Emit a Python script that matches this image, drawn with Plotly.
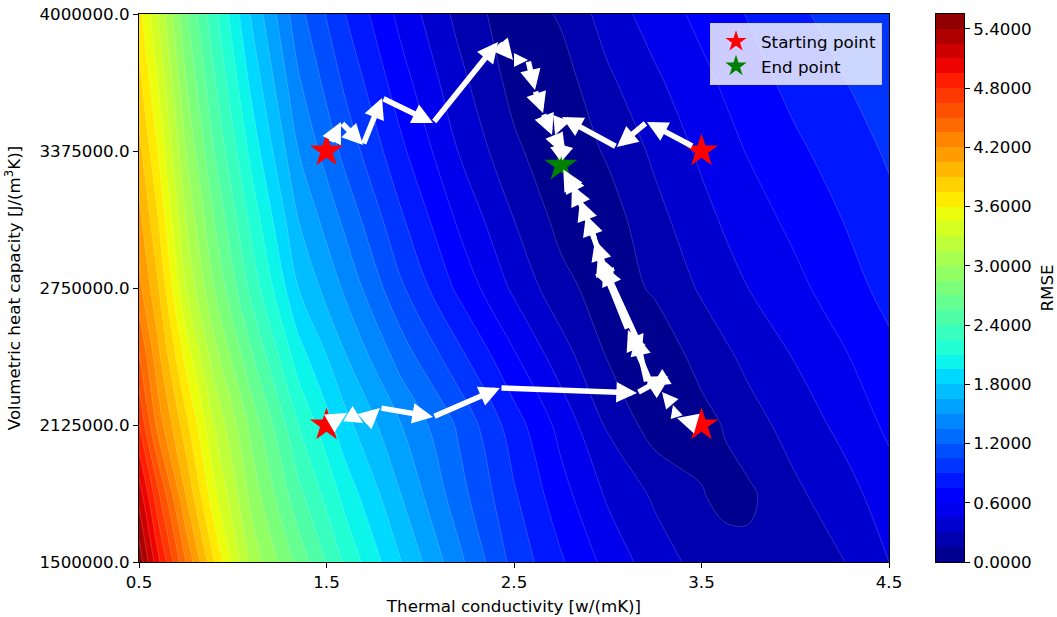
import plotly.graph_objects as go

# ---- RMSE surface sampled on a (conductivity, heat capacity) grid ----
k_grid = [0.5, 0.6, 0.75, 0.9, 1.1, 1.35, 1.6, 1.9, 2.2, 2.5, 2.75, 3.0,
          3.25, 3.5, 3.625, 3.75, 4.0, 4.25, 4.5]
c_grid = [1500000, 1800000, 2125000, 2437500, 2750000, 3062500, 3375000, 3687500, 4000000]
rmse_c1500 = [5.5, 5.0, 4.35, 3.75, 3.1, 2.65, 2.22, 1.8, 1.4, 1.0, 0.77, 0.55,
              0.37, 0.25, 0.21, 0.19, 0.22, 0.29, 0.45]
rmse_c1800 = [5.2, 4.7, 4.05, 3.5, 2.95, 2.45, 2.05, 1.65, 1.27, 0.92, 0.66, 0.43,
              0.28, 0.16, 0.11, 0.12, 0.27, 0.38, 0.53]
rmse_c2125 = [4.8, 4.3, 3.8, 3.3, 2.8, 2.25, 1.85, 1.5, 1.18, 0.82, 0.55, 0.28,
              0.08, 0.10, 0.16, 0.24, 0.36, 0.49, 0.63]
rmse_c2438 = [4.52, 4.1, 3.55, 3.07, 2.57, 2.02, 1.66, 1.28, 0.95, 0.62, 0.37, 0.14,
              0.05, 0.20, 0.27, 0.34, 0.46, 0.58, 0.71]
rmse_c2750 = [4.25, 3.92, 3.3, 2.85, 2.35, 1.8, 1.47, 1.07, 0.72, 0.42, 0.20, 0.07,
              0.17, 0.32, 0.39, 0.45, 0.56, 0.68, 0.80]
rmse_c3063 = [4.1, 3.76, 3.15, 2.7, 2.2, 1.65, 1.31, 0.92, 0.58, 0.30, 0.10, 0.08,
              0.25, 0.40, 0.47, 0.53, 0.64, 0.75, 0.86]
rmse_c3375 = [3.95, 3.6, 3.0, 2.55, 2.05, 1.5, 1.15, 0.78, 0.45, 0.18, 0.04, 0.17,
              0.33, 0.48, 0.55, 0.61, 0.72, 0.82, 0.92]
rmse_c3688 = [3.8, 3.45, 2.86, 2.42, 1.91, 1.37, 1.02, 0.66, 0.35, 0.10, 0.08, 0.27,
              0.42, 0.56, 0.62, 0.68, 0.80, 0.89, 0.98]
rmse_c4000 = [3.65, 3.3, 2.72, 2.3, 1.78, 1.25, 0.9, 0.55, 0.26, 0.05, 0.17, 0.37,
              0.52, 0.64, 0.70, 0.76, 0.87, 0.96, 1.05]
rmse_rows = [rmse_c1500, rmse_c1800, rmse_c2125, rmse_c2438, rmse_c2750,
             rmse_c3063, rmse_c3375, rmse_c3688, rmse_c4000]

level_step = 0.15
level_top = 5.55
cbar_ticks = [0.0, 0.6, 1.2, 1.8, 2.4, 3.0, 3.6, 4.2, 4.8, 5.4]

# ---- optimisation paths (conductivity, heat capacity) ----
path_a_k = [1.5, 1.577, 1.695, 1.796, 2.068, 2.415, 2.495, 2.575, 2.612, 2.655, 2.703, 2.735, 2.75]
path_a_c = [3375000, 3507000, 3402000, 3617000, 3503000, 3872000, 3790000, 3790000,
            3653000, 3548000, 3448000, 3380000, 3310000]
path_b_k = [3.5, 3.209, 3.049, 2.756, 2.719, 2.772, 2.75]
path_b_c = [3375000, 3507000, 3393000, 3530000, 3448000, 3380000, 3310000]
path_c_k = [1.5, 1.609, 1.695, 1.785, 2.068, 2.425, 3.156, 3.321, 3.236, 3.108, 2.948,
            3.023, 2.884, 2.809, 2.75]
path_c_c = [2125000, 2180000, 2134000, 2203000, 2162000, 2294000, 2271000, 2349000,
            2303000, 2558000, 2901000, 2741000, 3083000, 3220000, 3310000]
path_d_k = [3.5, 3.369, 3.348, 3.289, 3.209, 3.151, 3.183, 2.975, 2.932, 2.852, 2.777, 2.75]
path_d_c = [2125000, 2157000, 2216000, 2276000, 2317000, 2536000, 2467000, 2855000,
            2969000, 3151000, 3279000, 3310000]

start_k = [1.5, 3.5, 1.5, 3.5]
start_c = [3375000, 3375000, 2125000, 2125000]
end_k = [2.75]
end_c = [3310000]

x_ticks = [0.5, 1.5, 2.5, 3.5, 4.5]
y_ticks = [1500000, 2125000, 2750000, 3375000, 4000000]


def jet(p):
    """matplotlib 'jet' colormap evaluated at p in [0, 1]."""
    def seg(pts):
        for (x0, y0), (x1, y1) in zip(pts[:-1], pts[1:]):
            if x0 <= p <= x1:
                return y0 + (y1 - y0) * (p - x0) / (x1 - x0)
        return pts[-1][1]
    r = seg([(0, 0), (0.35, 0), (0.66, 1), (0.89, 1), (1, 0.5)])
    g = seg([(0, 0), (0.125, 0), (0.375, 1), (0.64, 1), (0.91, 0), (1, 0)])
    b = seg([(0, 0.5), (0.11, 1), (0.34, 1), (0.65, 0), (1, 0)])
    return "rgb(%d,%d,%d)" % (round(r * 255), round(g * 255), round(b * 255))


n_bands = int(round(level_top / level_step))
band_scale = [[j / (n_bands - 1), jet((j + 0.5) / n_bands)] for j in range(n_bands)]

FONT = "DejaVu Sans"
FS = 16.7
fig = go.Figure()

fig.add_trace(go.Contour(
    x=k_grid, y=c_grid, z=rmse_rows,
    autocontour=False,
    contours=dict(start=level_step, end=level_top - level_step, size=level_step,
                  coloring="fill"),
    colorscale=band_scale,
    line=dict(color="rgba(255,255,255,0.35)", width=0.5, smoothing=1.0),
    showscale=False, showlegend=False, hoverinfo="skip",
))

# colour bar drawn as a one-column heatmap of the band colours
fig.add_trace(go.Heatmap(
    x=[0], y=[level_step * (j + 0.5) for j in range(n_bands)],
    z=[[j] for j in range(n_bands)], zmin=0, zmax=n_bands - 1,
    colorscale=band_scale, showscale=False, xaxis="x2", yaxis="y2",
    hoverinfo="skip",
))

fig.add_trace(go.Scatter(
    x=start_k, y=start_c, mode="markers", name="Starting point",
    marker=dict(symbol="star", size=25, color="red", line=dict(width=0)),
))
fig.add_trace(go.Scatter(
    x=end_k, y=end_c, mode="markers", name="End point",
    marker=dict(symbol="star", size=25, color="green", line=dict(width=0)),
))

# step arrows along each path
PX_PER_K = 750 / 4.0
PX_PER_C = 548 / 2500000.0
SHAFT = 5.5
HEAD_LEN = 22.0
annotations = []
for pk, pc in [(path_a_k, path_a_c), (path_b_k, path_b_c),
               (path_c_k, path_c_c), (path_d_k, path_d_c)]:
    last = len(pk) - 2
    for i in range(len(pk) - 1):
        dx = (pk[i + 1] - pk[i]) * PX_PER_K
        dy = (pc[i + 1] - pc[i]) * PX_PER_C
        length = (dx * dx + dy * dy) ** 0.5
        f = min(1.0, length / HEAD_LEN)
        w = max(SHAFT * f, 1.2)
        annotations.append(dict(
            x=pk[i + 1], y=pc[i + 1], ax=pk[i], ay=pc[i],
            xref="x", yref="y", axref="x", ayref="y", text="",
            showarrow=True, arrowhead=2, arrowsize=0.75 * f * SHAFT / w,
            arrowwidth=w, arrowcolor="white",
            startstandoff=9 if i == 0 else 0,
            standoff=5 if i == last else 0,
        ))

axis_common = dict(showline=True, linecolor="black", linewidth=1, mirror=True,
                   ticks="outside", ticklen=5, tickcolor="black",
                   showgrid=False, zeroline=False, automargin=False,
                   tickfont=dict(family=FONT, size=FS, color="black"))

fig.update_layout(
    width=1057, height=617,
    margin=dict(l=139, r=93, t=14, b=55),
    paper_bgcolor="white", plot_bgcolor="white",
    font=dict(family=FONT, size=FS, color="black"),
    xaxis=dict(domain=[0, 750 / 825], range=[0.5, 4.5],
               tickvals=x_ticks, ticktext=["%.1f" % v for v in x_ticks],
               title=dict(text="Thermal conductivity [w/(mK)]", standoff=9,
                          font=dict(family=FONT, size=FS)),
               **axis_common),
    yaxis=dict(range=[1500000, 4000000],
               tickvals=y_ticks, ticktext=["%.1f" % v for v in y_ticks],
               title=dict(text="Volumetric heat capacity [J/(m<sup>3</sup>K)]", standoff=14,
                          font=dict(family=FONT, size=FS)),
               **axis_common),
    xaxis2=dict(domain=[797 / 825, 1], range=[-0.5, 0.5], anchor="y2",
                showline=True, linecolor="black", mirror=True, showticklabels=False,
                ticks="", showgrid=False, zeroline=False, automargin=False),
    yaxis2=dict(domain=[0, 1], range=[0, level_top], anchor="x2", side="right",
                tickvals=cbar_ticks, ticktext=["%.4f" % v for v in cbar_ticks],
                title=dict(text="RMSE", standoff=10, font=dict(family=FONT, size=FS)),
                **axis_common),
    legend=dict(x=743 / 825, y=1 - 9 / 548, xanchor="right", yanchor="top",
                itemwidth=40,
                bgcolor="rgba(255,255,255,0.8)", bordercolor="#cccccc", borderwidth=1,
                font=dict(family=FONT, size=FS)),
    annotations=annotations,
)

fig.write_html("out.html")
